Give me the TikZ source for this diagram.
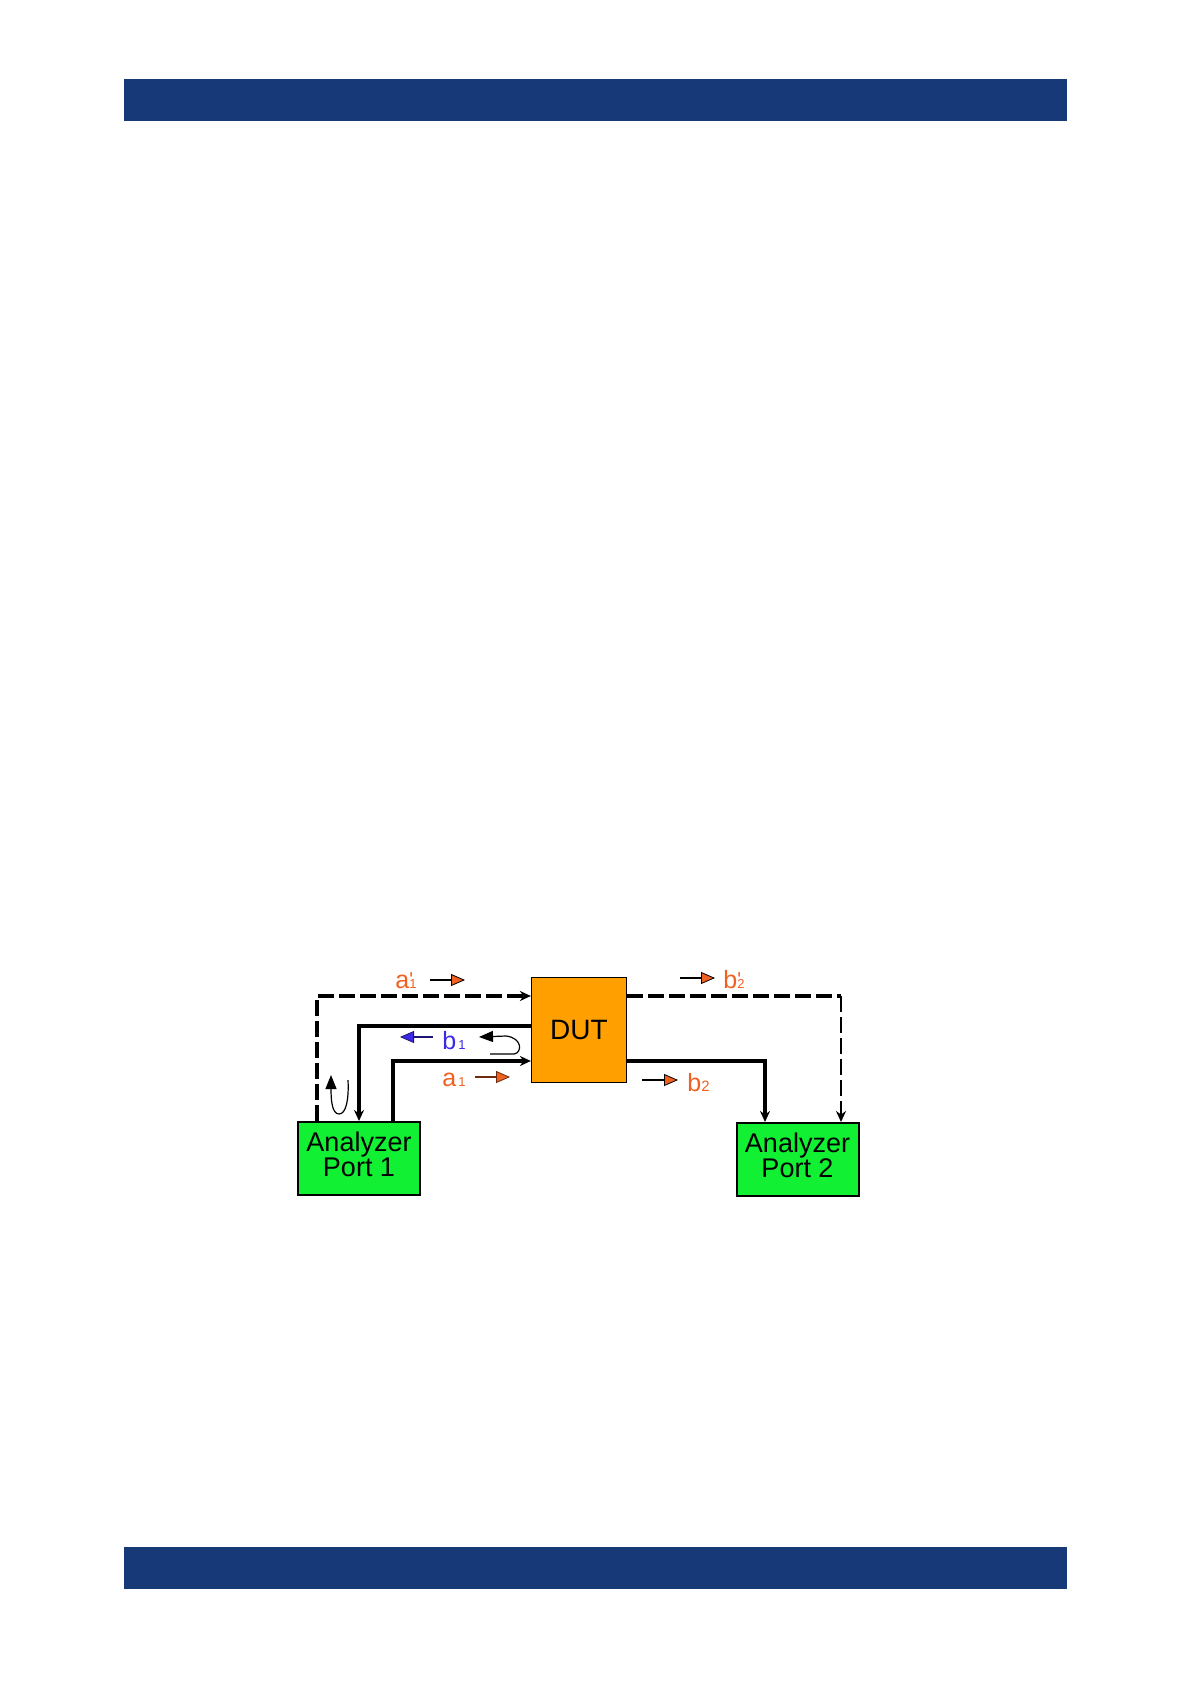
\documentclass[tikz,border=0pt]{standalone}
\usepackage{fontspec}
\setmainfont{Liberation Sans}
\usetikzlibrary{arrows.meta,positioning}
\definecolor{navybar}{RGB}{24,57,120}
\definecolor{dutorange}{RGB}{255,160,0}
\definecolor{portgreen}{RGB}{17,240,51}
\definecolor{sigorange}{RGB}{240,96,32}
\definecolor{sigblue}{RGB}{60,40,230}
\newcommand{\wavesym}[3]{#1\rlap{\raisebox{1pt}{\fontsize{10}{10}\selectfont#2}}{\fontsize{6.5}{6.5}\selectfont#3}}

\begin{document}
\begin{tikzpicture}[x=0.5pt,y=-0.5pt,
  port/.style={draw,line width=1pt,fill=portgreen,align=center,inner sep=0pt,
               minimum width=61pt,minimum height=36.5pt,text depth=4pt,
               font=\fontsize{13.5}{12.7}\selectfont},
  dutbox/.style={draw,line width=0.6pt,fill=dutorange,minimum width=47.5pt,
                 minimum height=52.5pt,font=\fontsize{14}{14}\selectfont},
  wire/.style={line width=2pt,-{Stealth[length=5.5pt,width=5pt]}},
  dwire/.style={wire,dash pattern=on 8pt off 2.5pt},
  lbl/.style={anchor=base west,inner sep=0pt,font=\fontsize{12.5}{12.5}\selectfont},
  lblarr/.style={line width=1pt,-{Triangle[length=7pt,width=6pt,line width=0.4pt,fill=#1]}},
  loop/.style={line width=0.6pt,-{Triangle[length=7pt,width=5.5pt]}}
]
\useasboundingbox (0,0) rectangle (1191,1684);
% page bars
\fill[navybar] (124,79) rectangle (1067,121);
\fill[navybar] (124,1547) rectangle (1067,1589);

% blocks
\node[dutbox] (dut) at (579,1030) {DUT};
\node[port] (port1) at (359,1158.5) {Analyzer\\Port 1};
\node[port] (port2) at (797.5,1159.5) {Analyzer\\Port 2};

% port 1 side
\draw[dwire] ([xshift=-21pt]port1.north) |- ([yshift=17pt]dut.west);
\draw[wire] ([yshift=2pt]dut.west) -| (port1.north);
\draw[wire] ([xshift=17pt]port1.north) |- ([yshift=-15.5pt]dut.west);

% port 2 side
\coordinate (dcorner) at (841,996);
\draw[line width=2pt,dash pattern=on 8pt off 2.5pt] ([yshift=17pt]dut.east) -- (dcorner);
\draw[dwire,line width=1.2pt] (dcorner) -- (dcorner |- port2.north);
\draw[wire] ([yshift=-15.5pt]dut.east) -| ([xshift=-16.25pt]port2.north);

% wave labels
\node[lbl,text=sigorange] (a1p) at (395,988) {\wavesym{a}{\textquotesingle}{1}};
\node[lbl,text=sigblue] (b1) at (442,1049) {\wavesym{b}{}{\,1}};
\node[lbl,text=sigorange] (a1) at (442,1086) {\wavesym{a}{}{\,1}};
\node[lbl,text=sigorange] (b2p) at (723,988) {\wavesym{b}{\textquotesingle}{2}};
\node[lbl,text=sigorange] (b2) at (687,1091.5) {b{\fontsize{7.5}{7.5}\selectfont 2}};

% direction marks
\draw[lblarr=sigorange] (430,980) -- (465,980);
\draw[lblarr=sigorange] (680,978) -- (715,978);
\draw[lblarr=sigblue,draw=sigblue!50!black] (433,1037) -- (400,1037);
\draw[lblarr=sigorange,draw=sigorange!45!black] (475,1077) -- (510,1077);
\draw[lblarr=sigorange] (642,1080) -- (678,1080);

% reflections
\draw[loop] (490,1054) -- (514,1054) .. controls (522,1053) and (523,1038) .. (506,1036) -- (479,1037);
\draw[loop] (348,1080) .. controls (349,1100) and (346,1114) .. (339,1114)
  .. controls (332,1114) and (331,1100) .. (331,1075);
\end{tikzpicture}
\end{document}
